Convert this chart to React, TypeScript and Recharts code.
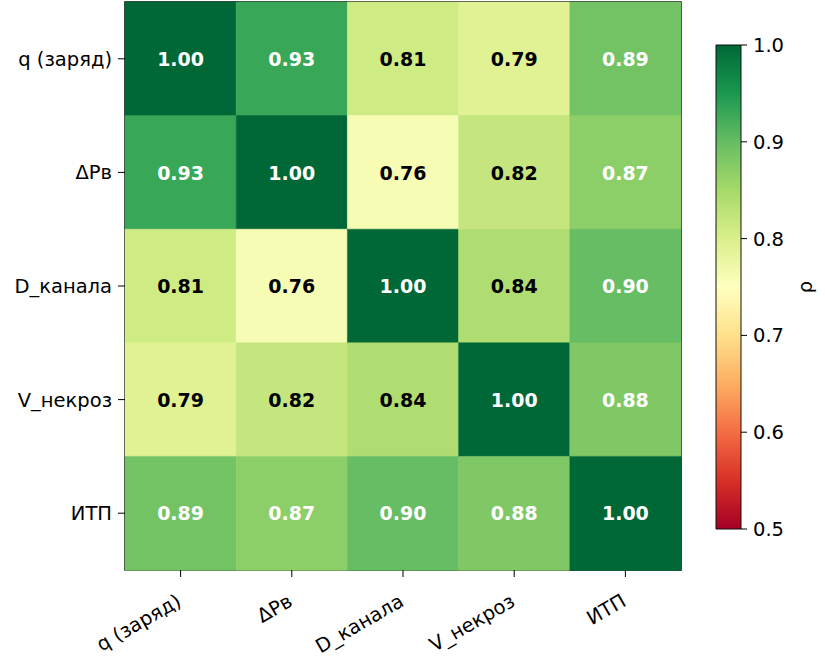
import React from 'react';
import { BarChart, Bar, XAxis, YAxis, Cell, LabelList, ReferenceArea } from 'recharts';

const labels = ['q (заряд)', 'ΔPв', 'D_канала', 'V_некроз', 'ИТП'];
const rowQ = [1.0, 0.93, 0.81, 0.79, 0.89];
const rowDP = [0.93, 1.0, 0.76, 0.82, 0.87];
const rowD = [0.81, 0.76, 1.0, 0.84, 0.9];
const rowV = [0.79, 0.82, 0.84, 1.0, 0.88];
const rowI = [0.89, 0.87, 0.9, 0.88, 1.0];
const matrix = [rowQ, rowDP, rowD, rowV, rowI];

const colTicks = [0.5, 1.5, 2.5, 3.5, 4.5];
const cbarTicks = [0.5, 0.6, 0.7, 0.8, 0.9, 1.0];
const vmin = 0.5;
const vmax = 1.0;

const rdylgn = ['#a50026', '#d73027', '#f46d43', '#fdae61', '#fee08b', '#ffffbf', '#d9ef8b', '#a6d96a', '#66bd63', '#1a9850', '#006837'];

const hex = (h: string) => [parseInt(h.slice(1, 3), 16), parseInt(h.slice(3, 5), 16), parseInt(h.slice(5, 7), 16)];
const cmap = (v: number) => {
  let t = (v - vmin) / (vmax - vmin);
  t = Math.max(0, Math.min(1, t));
  const p = t * (rdylgn.length - 1);
  const i = Math.min(Math.floor(p), rdylgn.length - 2);
  const f = p - i;
  const a = hex(rdylgn[i]);
  const b = hex(rdylgn[i + 1]);
  const c = a.map((x, k) => Math.round(x + (b[k] - x) * f));
  return `rgb(${c[0]},${c[1]},${c[2]})`;
};

const data = matrix.map((vals, i) => {
  const row: any = { name: labels[i] };
  vals.forEach((v, j) => {
    row['w' + j] = 1;
    row['v' + j] = v;
  });
  return row;
});

const cbarData = [{ name: 'cb', range: [vmin, vmax] }];

const FONT = 19;
const TICKFONT = 19.5;

const renderCellLabel = (props: any) => {
  const vb = props.viewBox || {};
  const x = props.x ?? vb.x;
  const y = props.y ?? vb.y;
  const w = props.width ?? vb.width;
  const h = props.height ?? vb.height;
  const v = Number(props.value);
  return (
    <text
      x={x + w / 2}
      y={y + h / 2}
      textAnchor="middle"
      dominantBaseline="central"
      fontSize={FONT}
      fontWeight="bold"
      fill={v > 0.85 ? '#ffffff' : '#000000'}
    >
      {v.toFixed(2)}
    </text>
  );
};

const XTick = (props: any) => {
  const { x, y, payload } = props;
  const idx = Math.floor(payload.value);
  return (
    <g transform={`translate(${x + 2},${y + 26})`}>
      <text x={0} y={0} textAnchor="end" transform="rotate(-30)" fontSize={TICKFONT} fill="#000">
        {labels[idx]}
      </text>
    </g>
  );
};

export default function App() {
  return (
    <div style={{ position: 'absolute', left: 0, top: 0, width: 825, height: 665, background: '#fff', fontFamily: 'DejaVu Sans' }}>
      <div style={{ position: 'absolute', left: 0, top: 0 }}>
        <BarChart
          width={825}
          height={665}
          data={data}
          layout="vertical"
          margin={{ top: 2, right: 144, bottom: 0, left: 0 }}
          barCategoryGap={0}
          barGap={0}
        >
          <XAxis
            type="number"
            domain={[0, 5]}
            ticks={colTicks}
            tick={<XTick />}
            tickSize={7}
            tickLine={{ stroke: '#000' }}
            axisLine={false}
            height={95}
            interval={0}
          />
          <YAxis
            type="category"
            dataKey="name"
            width={125}
            tickSize={7}
            tickMargin={6}
            tickLine={{ stroke: '#000' }}
            axisLine={false}
            tick={{ fill: '#000', fontSize: TICKFONT }}
            interval={0}
          />
          {[0, 1, 2, 3, 4].map((j) => (
            <Bar key={j} dataKey={'w' + j} stackId="a" isAnimationActive={false}>
              {matrix.map((vals, i) => (
                <Cell key={i} fill={cmap(vals[j])} stroke={cmap(vals[j])} strokeWidth={0.5} />
              ))}
              <LabelList dataKey={'v' + j} content={renderCellLabel} />
            </Bar>
          ))}
          <ReferenceArea x1={0} x2={5} fill="none" fillOpacity={0} stroke="#000" strokeWidth={1.5} ifOverflow="visible" />
        </BarChart>
      </div>
      <div style={{ position: 'absolute', left: 0, top: 0 }}>
        <BarChart
          width={825}
          height={665}
          data={cbarData}
          margin={{ top: 45, right: 0, bottom: 136, left: 716 }}
          barCategoryGap={0}
        >
          <defs>
            <linearGradient id="cbarGrad" x1="0" y1="1" x2="0" y2="0">
              {rdylgn.map((c, i) => (
                <stop key={i} offset={i / (rdylgn.length - 1)} stopColor={c} />
              ))}
            </linearGradient>
          </defs>
          <XAxis dataKey="name" hide />
          <YAxis
            orientation="right"
            type="number"
            domain={[vmin, vmax]}
            ticks={cbarTicks}
            tickFormatter={(v: number) => v.toFixed(1)}
            width={84}
            tickSize={6}
            tickMargin={6}
            tickLine={{ stroke: '#000' }}
            axisLine={false}
            tick={{ fill: '#000', fontSize: TICKFONT }}
            interval={0}
            label={{
              content: (p: any) => {
                const vb = p.viewBox || {};
                const cx = vb.x + 64;
                const cy = vb.y + vb.height / 2;
                return (
                  <text x={cx} y={cy} transform={`rotate(-90,${cx},${cy})`} textAnchor="middle" dominantBaseline="central" fontSize={TICKFONT} fill="#000">
                    ρ
                  </text>
                );
              },
            }}
          />
          <Bar dataKey="range" fill="url(#cbarGrad)" stroke="#111" strokeWidth={1} isAnimationActive={false} />
        </BarChart>
      </div>
    </div>
  );
}
